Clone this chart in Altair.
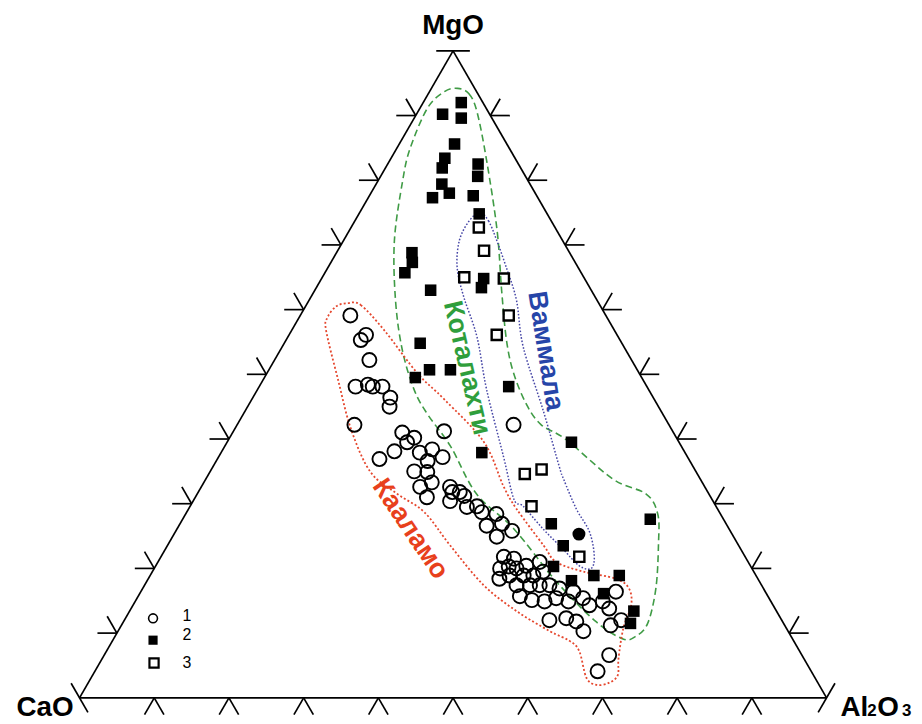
import altair as alt
import pandas as pd
import numpy as np

# ---------------- data (CaO = 100 - MgO - Al2O3) ----------------
# 1: open circles
g1_mgo = [59.1, 56.1, 55.3, 52.2, 48.1, 48.4, 48.1, 48.1, 46.4, 45.0, 42.2, 41.0, 40.2, 39.5, 41.2,
          38.1, 36.9, 37.9, 38.4, 36.6, 37.2, 35.0, 34.9, 33.3, 32.6, 32.6, 31.8, 31.0, 31.8, 30.4,
          31.2, 29.5, 29.6, 28.7, 26.6, 24.9, 42.2, 21.8, 21.5, 20.0, 20.3, 20.0, 20.4, 21.0, 18.4,
          18.9, 18.9, 18.9, 19.5, 17.4, 17.4, 17.4, 17.4, 16.9, 16.4, 15.7, 15.1, 14.9, 15.4, 14.9,
          15.4, 14.3, 14.9, 16.4, 13.8, 12.0, 12.3, 11.8, 10.3, 11.2, 12.0, 6.6, 4.1, 28.4, 26.9, 25.8]
g1_al = [6.7, 10.3, 10.0, 12.7, 12.9, 14.4, 15.2, 16.5, 18.4, 19.0, 15.7, 22.7, 24.7, 24.1, 28.2,
         23.1, 21.7, 26.6, 28.0, 28.3, 30.0, 27.3, 29.1, 30.5, 29.3, 33.3, 35.0, 31.0, 34.0, 34.4,
         35.9, 37.1, 38.4, 39.5, 41.2, 43.4, 37.0, 45.9, 47.4, 46.3, 47.3, 48.5, 49.6, 51.1, 47.0,
         48.1, 50.0, 51.3, 52.3, 49.8, 51.6, 52.9, 54.2, 55.8, 57.9, 51.1, 53.0, 54.8, 56.1, 58.0,
         59.7, 61.1, 62.6, 63.6, 64.0, 56.9, 59.0, 60.6, 62.3, 65.5, 66.5, 67.6, 67.3, 41.6, 43.1, 45.0]

# 2: filled squares
g2_mgo = [90.2, 92.0, 89.6, 85.6, 83.4, 81.9, 82.5, 80.6, 79.4, 78.0, 77.3, 77.6, 74.8, 68.8, 67.3,
          65.7, 63.0, 64.8, 63.4, 54.8, 50.7, 49.5, 50.7, 48.1, 39.5, 37.9, 26.9, 23.5, 20.3, 18.1,
          18.9, 18.9, 16.1, 13.4, 11.5, 27.6]
g2_al = [3.5, 5.1, 6.3, 7.4, 7.2, 7.6, 12.1, 13.0, 8.8, 10.5, 8.6, 13.9, 16.1, 10.1, 10.9,
         10.7, 15.5, 21.7, 22.1, 18.2, 21.5, 20.2, 24.3, 33.4, 46.1, 34.9, 49.7, 53.0, 53.3, 56.8,
         59.4, 62.8, 62.1, 67.5, 68.0, 62.6]
# filled circle (single sample)
g2c_mgo = [25.3]
g2c_al = [54.2]

# 3: open squares
g3_mgo = [72.7, 69.1, 65.0, 64.8, 59.1, 56.1, 34.6, 35.3, 29.6, 21.8]
g3_al = [17.1, 19.6, 19.0, 24.4, 27.9, 27.8, 42.3, 44.2, 45.7, 56.0]

# outlined fields
kot_mgo = [94.2, 93.4, 90.6, 83.0, 72.2, 63.0, 55.3, 50.2, 45.3, 42.2, 39.9, 33.8, 31.5, 28.4, 23.8,
           16.9, 11.5, 9.5, 9.1, 11.8, 18.0, 26.1, 31.5, 38.9, 43.8, 47.6, 53.8, 61.4, 70.7, 79.9,
           84.9, 91.1, 93.7]
kot_al = [3.5, 5.4, 7.9, 13.0, 19.8, 25.0, 29.5, 33.0, 37.2, 40.7, 45.2, 54.5, 60.1, 63.2, 65.6,
          68.7, 70.3, 69.7, 68.2, 63.2, 54.8, 45.1, 37.4, 30.2, 24.7, 21.0, 16.3, 11.6, 6.8, 3.3,
          1.8, 1.0, 2.0]
kaa_mgo = [61.0, 60.7, 56.8, 50.2, 46.1, 39.5, 32.7, 29.2, 23.5, 21.0, 19.5, 18.4, 16.9, 14.3, 10.8,
           6.1, 3.5, 2.3, 2.0, 3.1, 7.2, 8.8, 10.3, 13.4, 17.4, 23.5, 28.7, 31.5, 34.9, 41.5,
           49.2, 56.8, 58.8, 60.5]
kaa_al = [5.4, 7.3, 12.4, 20.1, 25.8, 34.4, 40.4, 43.9, 50.4, 53.3, 57.7, 62.6, 65.1, 66.7, 67.4,
          69.1, 70.3, 69.7, 68.2, 66.3, 63.3, 61.2, 57.8, 51.8, 45.4, 37.9, 31.8, 26.8, 21.5, 15.6,
          10.0, 4.6, 3.8, 4.1]
vam_mgo = [75.0, 73.7, 70.7, 66.1, 61.4, 54.2, 44.1, 35.8, 33.8, 29.2, 25.7, 22.0, 20.0, 20.4, 23.0,
           26.1, 29.6, 30.7, 37.3, 47.6, 55.8, 61.9, 66.5, 70.7, 73.7]
vam_al = [16.1, 17.9, 20.5, 24.2, 27.8, 32.3, 40.1, 46.3, 47.9, 51.9, 55.4, 57.9, 58.5, 56.7, 53.2,
          49.0, 44.6, 42.8, 38.1, 30.7, 25.3, 20.5, 17.3, 15.5, 15.3]

tick_values = [10, 20, 30, 40, 50, 60, 70, 80, 90]
vertex_names = ["MgO", "CaO", "Al", "2", "O", "3"]
field_names = ["Коталахти", "Ваммала", "Кааламо"]
legend_labels = ["1", "2", "3"]

# ---------------- geometry / scales ----------------
S = np.sqrt(3) / 2
K = 752.0            # pixels per ternary unit
W, H = 912, 716
xmin = -72 / K
xmax = xmin + W / K
ymax = 692 / K
ymin = ymax - H / K
xs = alt.Scale(domain=[xmin, xmax], nice=False, zero=False)
ys = alt.Scale(domain=[ymin, ymax], nice=False, zero=False)
X = alt.X("x:Q", scale=xs, axis=None)
Y = alt.Y("y:Q", scale=ys, axis=None)
calc = dict(x="(datum.Al2O3 + datum.MgO/2)/100", y="datum.MgO*sqrt(3)/200")


def cart(m, a):
    return (a + m / 2) / 100.0, m * S / 100.0


def comp_df(mgo, al):
    return pd.DataFrame({"MgO": mgo, "Al2O3": al, "i": range(len(mgo))})


# frame sides and tick marks
segs = []
verts = {"MgO": (100, 0), "CaO": (0, 0), "Al2O3": (0, 100)}
for p, q in [("MgO", "CaO"), ("CaO", "Al2O3"), ("Al2O3", "MgO")]:
    x1, y1 = cart(*verts[p]); x2, y2 = cart(*verts[q])
    segs.append((x1, y1, x2, y2))
L = 0.026
for t in tick_values:
    # left side (Al2O3 = 0)
    px, py = cart(t, 0)
    for dx, dy in [(-1, 0), (-0.5, S)]:
        segs.append((px, py, px + L * dx, py + L * dy))
    # base (MgO = 0)
    px, py = cart(0, t)
    for dx, dy in [(-0.5, -S), (0.5, -S)]:
        segs.append((px, py, px + L * dx, py + L * dy))
    # right side (CaO = 0)
    px, py = cart(t, 100 - t)
    for dx, dy in [(1, 0), (0.5, S)]:
        segs.append((px, py, px + L * dx, py + L * dy))
l2 = 0.0225
for (m, a), (dx, dy) in [((100, 0), (1, 0)), ((0, 0), (0.5, -S)), ((0, 100), (0.5, S))]:
    px, py = cart(m, a)
    segs.append((px - l2 * dx, py - l2 * dy, px + l2 * dx, py + l2 * dy))
seg_df = pd.DataFrame(segs, columns=["x", "y", "x2", "y2"])

frame = alt.Chart(seg_df).mark_rule(color="black", strokeWidth=1.7).encode(
    x=X, y=Y, x2="x2:Q", y2="y2:Q")


def outline(mgo, al, color, dash, width):
    return alt.Chart(comp_df(mgo, al)).transform_calculate(**calc).mark_line(
        interpolate="cardinal-closed", color=color, strokeDash=dash, strokeWidth=width
    ).encode(x=X, y=Y, order="i:Q")


kot_line = outline(kot_mgo, kot_al, "#3f9b45", [7, 4], 1.6)
kaa_line = outline(kaa_mgo, kaa_al, "#e5472e", [2, 2.2], 1.8)
vam_line = outline(vam_mgo, vam_al, "#4646a6", [1.6, 1.8], 1.5)

circ = alt.Chart(comp_df(g1_mgo, g1_al)).transform_calculate(**calc).mark_point(
    shape="circle", filled=False, stroke="black", strokeWidth=1.9, size=200, opacity=1
).encode(x=X, y=Y)
fsq = alt.Chart(comp_df(g2_mgo, g2_al)).transform_calculate(**calc).mark_point(
    shape="square", filled=True, color="black", size=135, opacity=1
).encode(x=X, y=Y)
fcirc = alt.Chart(comp_df(g2c_mgo, g2c_al)).transform_calculate(**calc).mark_point(
    shape="circle", filled=True, color="black", size=170, opacity=1
).encode(x=X, y=Y)
osq = alt.Chart(comp_df(g3_mgo, g3_al)).transform_calculate(**calc).mark_point(
    shape="square", filled=False, stroke="black", strokeWidth=2.4, size=105, opacity=1
).encode(x=X, y=Y)


def note(text, px, py, size, color="black", angle=0, align="center", baseline="middle",
         weight="bold", font="Liberation Sans"):
    return alt.Chart(pd.DataFrame({"t": [text]})).mark_text(
        align=align, baseline=baseline, angle=angle, fontSize=size, fontWeight=weight,
        font=font, color=color
    ).encode(text="t:N", x=alt.value(px - 8), y=alt.value(py - 8))


labels = [
    note(vertex_names[0], 456, 24, 28),
    note(vertex_names[1], 74, 718, 28, align="right", baseline="alphabetic"),
    note(vertex_names[2], 846, 718, 28, align="left", baseline="alphabetic"),
    note(vertex_names[3], 873, 718, 17, align="left", baseline="alphabetic"),
    note(vertex_names[4], 883, 718, 28, align="left", baseline="alphabetic"),
    note(vertex_names[5], 908, 718, 17, align="left", baseline="alphabetic"),
    note(field_names[0], 470, 368, 27, color="#2f9e3c", angle=77),
    note(field_names[1], 549, 351, 27, color="#2645a8", angle=81),
    note(field_names[2], 413, 530, 27, color="#e8401c", angle=56),
]

# legend (manual, lower left)
leg = [
    alt.Chart(pd.DataFrame({"k": [legend_labels[0]]})).mark_point(
        shape="circle", filled=False, stroke="black", strokeWidth=1.6, size=80, opacity=1
    ).encode(x=alt.value(154 - 8), y=alt.value(620 - 8)),
    alt.Chart(pd.DataFrame({"k": [legend_labels[1]]})).mark_point(
        shape="square", filled=True, color="black", size=85, opacity=1
    ).encode(x=alt.value(154 - 8), y=alt.value(642 - 8)),
    alt.Chart(pd.DataFrame({"k": [legend_labels[2]]})).mark_point(
        shape="square", filled=False, stroke="black", strokeWidth=2.2, size=85, opacity=1
    ).encode(x=alt.value(155 - 8), y=alt.value(665 - 8)),
    note(legend_labels[0], 188, 618, 16, weight="normal"),
    note(legend_labels[1], 188, 637, 16, weight="normal"),
    note(legend_labels[2], 188, 665, 16, weight="normal"),
]

chart = alt.layer(
    frame, kot_line, kaa_line, vam_line, circ, fsq, fcirc, osq, *labels, *leg
).properties(
    width=W, height=H, padding=0, background="white",
    autosize=alt.AutoSizeParams(type="none")
).configure_view(stroke=None)

chart.save("out.html", embed_options={"renderer": "svg", "actions": False})
